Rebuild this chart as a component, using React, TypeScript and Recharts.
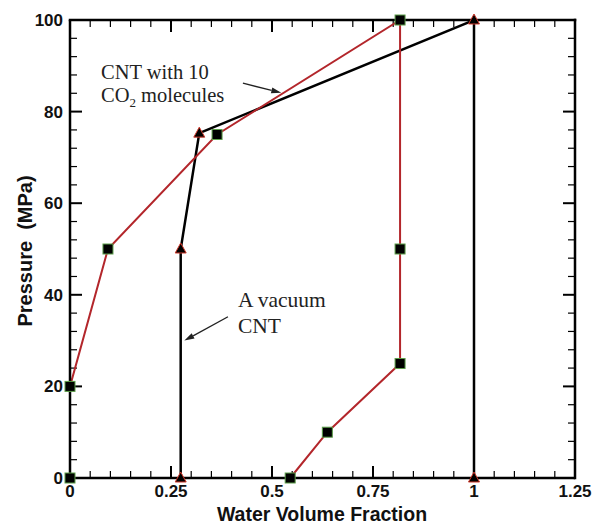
import React from 'react';
import { ComposedChart, Line, XAxis, YAxis, ReferenceLine, Customized } from 'recharts';

// CNT with 10 CO2 molecules (red line, square markers)
const co2X = [0, 0, 0.094, 0.364, 0.817, 0.817, 0.817, 0.637, 0.545];
const co2P = [0, 20, 50, 75, 100, 50, 25, 10, 0];
// Vacuum CNT (black line, triangle markers)
const vacX = [0.274, 0.274, 0.32, 1.0, 1.0];
const vacP = [0, 50, 75.3, 100, 0];

const xMajorTicks = [0, 0.25, 0.5, 0.75, 1, 1.25];
const xMinorTicks = [0.05, 0.1, 0.15, 0.2, 0.3, 0.35, 0.4, 0.45, 0.55, 0.6, 0.65, 0.7, 0.8, 0.85, 0.9, 0.95, 1.05, 1.1, 1.15, 1.2];
const yMajorTicks = [0, 20, 40, 60, 80, 100];
const yMinorTicks = [4, 8, 12, 16, 24, 28, 32, 36, 44, 48, 52, 56, 64, 68, 72, 76, 84, 88, 92, 96];

const co2Data = co2X.map((x, i) => ({ x, p: co2P[i] }));
const vacData = vacX.map((x, i) => ({ x, p: vacP[i] }));

const arrowCO2 = [{ x: 0.428, y: 86.2 }, { x: 0.523, y: 84.1 }];
const arrowVac = [{ x: 0.391, y: 35.2 }, { x: 0.283, y: 30.0 }];

const SANS = '"Liberation Sans", Arial, Helvetica, sans-serif';
const SERIF = '"Liberation Serif", "Times New Roman", serif';
const RED = '#b3262b';
const MAJ = 12;
const MIN = 7;

const BottomLabel = (props: any) => {
  const { x, y, payload } = props;
  return (
    <text x={x} y={y + 19} textAnchor="middle" fontFamily={SANS} fontWeight="bold" fontSize={17} fill="#111">
      {String(payload.value)}
    </text>
  );
};

const LeftLabel = (props: any) => {
  const { x, y, payload } = props;
  return (
    <text x={x - 7} y={y + 6} textAnchor="end" fontFamily={SANS} fontWeight="bold" fontSize={17} fill="#111">
      {String(payload.value)}
    </text>
  );
};

// tick marks drawn at both ends of a vertical reference line (bottom and top axes)
const vTicks = (len: number, w: number) => (props: any) => {
  const { x1, y1, y2 } = props;
  if (x1 == null || isNaN(x1)) return <g />;
  const top = Math.min(y1, y2);
  const bot = Math.max(y1, y2);
  return (
    <g>
      <line x1={x1} y1={bot} x2={x1} y2={bot - len} stroke="#000" strokeWidth={w} />
      <line x1={x1} y1={top} x2={x1} y2={top + len} stroke="#000" strokeWidth={w} />
    </g>
  );
};

// tick marks drawn at both ends of a horizontal reference line (left and right axes)
const hTicks = (len: number, w: number) => (props: any) => {
  const { x1, x2, y1 } = props;
  if (y1 == null || isNaN(y1)) return <g />;
  const l = Math.min(x1, x2);
  const r = Math.max(x1, x2);
  return (
    <g>
      <line x1={l} y1={y1} x2={l + len} y2={y1} stroke="#000" strokeWidth={w} />
      <line x1={r} y1={y1} x2={r - len} y2={y1} stroke="#000" strokeWidth={w} />
    </g>
  );
};

const majorV = vTicks(MAJ, 2);
const minorV = vTicks(MIN, 1.2);
const majorH = hTicks(MAJ, 2);
const minorH = hTicks(MIN, 1.2);

const FrameLine = (props: any) => {
  const { x1, y1, x2, y2 } = props;
  if ([x1, y1, x2, y2].some((v) => v == null || isNaN(v))) return <g />;
  return <line x1={x1} y1={y1} x2={x2} y2={y2} stroke="#000" strokeWidth={2.5} strokeLinecap="square" />;
};

const SquareDot = (props: any) => {
  const { cx, cy, index } = props;
  if (cx == null || cy == null) return <g key={`s${index}`} />;
  return <rect key={`s${index}`} x={cx - 5} y={cy - 5} width={10} height={10} fill="#000" stroke="#5c9e4a" strokeWidth={1} />;
};

const TriDot = (props: any) => {
  const { cx, cy, index } = props;
  if (cx == null || cy == null) return <g key={`t${index}`} />;
  return (
    <polygon
      key={`t${index}`}
      points={`${cx},${cy - 6} ${cx - 5.5},${cy + 4} ${cx + 5.5},${cy + 4}`}
      fill="#000"
      stroke="#d0392b"
      strokeWidth={1}
    />
  );
};

const ArrowShape = (props: any) => {
  const { x1, y1, x2, y2 } = props;
  if ([x1, y1, x2, y2].some((v) => v == null || isNaN(v))) return <g />;
  const ang = Math.atan2(y2 - y1, x2 - x1);
  const L = 10;
  const W = 3;
  const bx = x2 - L * Math.cos(ang);
  const by = y2 - L * Math.sin(ang);
  const px = -Math.sin(ang) * W;
  const py = Math.cos(ang) * W;
  return (
    <g>
      <line x1={x1} y1={y1} x2={bx} y2={by} stroke="#222" strokeWidth={1.3} />
      <polygon points={`${x2},${y2} ${bx + px},${by + py} ${bx - px},${by - py}`} fill="#222" />
    </g>
  );
};

const Texts = () => (
  <g>
    <text x={101} y={79} fontFamily={SERIF} fontSize={20.5} fill="#222">CNT with 10</text>
    <text x={101} y={101.5} fontFamily={SERIF} fontSize={20.5} fill="#222">
      CO<tspan fontSize={13} dy={5}>2</tspan>
      <tspan dy={-5}> molecules</tspan>
    </text>
    <text x={238} y={306.5} fontFamily={SERIF} fontSize={21.5} fill="#222">A vacuum</text>
    <text x={238} y={333} fontFamily={SERIF} fontSize={21.5} fill="#222">CNT</text>
    <text x={322} y={521} textAnchor="middle" fontFamily={SANS} fontWeight="bold" fontSize={19.5} fill="#111">
      Water Volume Fraction
    </text>
    <text
      x={0}
      y={0}
      transform="translate(31.5,251) rotate(-90)"
      textAnchor="middle"
      fontFamily={SANS}
      fontWeight="bold"
      fontSize={20}
      fill="#111"
      style={{ whiteSpace: 'pre' }}
    >
      {'Pressure  (MPa)'}
    </text>
  </g>
);

export default function App() {
  return (
    <div style={{ position: 'absolute', left: 0, top: 0, width: 594, height: 525, background: '#fff' }}>
      <ComposedChart width={594} height={525} margin={{ top: 20, right: 19, bottom: 17, left: 20 }}>
        <XAxis
          xAxisId="b"
          type="number"
          dataKey="x"
          orientation="bottom"
          domain={[0, 1.25]}
          ticks={xMajorTicks}
          interval={0}
          height={30}
          tickSize={0}
          tickMargin={0}
          tick={BottomLabel}
          axisLine={{ stroke: '#000', strokeWidth: 2.5 }}
          tickLine={false}
        />
        <YAxis
          yAxisId="l"
          type="number"
          orientation="left"
          domain={[0, 100]}
          ticks={yMajorTicks}
          interval={0}
          width={50}
          tickSize={0}
          tickMargin={0}
          tick={LeftLabel}
          axisLine={{ stroke: '#000', strokeWidth: 2.5 }}
          tickLine={false}
        />
        {xMinorTicks.map((v) => (
          <ReferenceLine key={`xm${v}`} xAxisId="b" yAxisId="l" x={v} shape={minorV} ifOverflow="visible" />
        ))}
        {xMajorTicks.map((v) => (
          <ReferenceLine key={`xM${v}`} xAxisId="b" yAxisId="l" x={v} shape={majorV} ifOverflow="visible" />
        ))}
        {yMinorTicks.map((v) => (
          <ReferenceLine key={`ym${v}`} xAxisId="b" yAxisId="l" y={v} shape={minorH} ifOverflow="visible" />
        ))}
        {yMajorTicks.map((v) => (
          <ReferenceLine key={`yM${v}`} xAxisId="b" yAxisId="l" y={v} shape={majorH} ifOverflow="visible" />
        ))}
        <ReferenceLine xAxisId="b" yAxisId="l" x={1.25} shape={FrameLine} ifOverflow="visible" />
        <ReferenceLine xAxisId="b" yAxisId="l" y={100} shape={FrameLine} ifOverflow="visible" />
        <Line
          xAxisId="b"
          yAxisId="l"
          data={vacData}
          dataKey="p"
          type="linear"
          stroke="#000"
          strokeWidth={2.5}
          dot={TriDot}
          activeDot={false}
          isAnimationActive={false}
        />
        <Line
          xAxisId="b"
          yAxisId="l"
          data={co2Data}
          dataKey="p"
          type="linear"
          stroke={RED}
          strokeWidth={2}
          dot={SquareDot}
          activeDot={false}
          isAnimationActive={false}
        />
        <ReferenceLine xAxisId="b" yAxisId="l" segment={arrowCO2} shape={ArrowShape} ifOverflow="visible" />
        <ReferenceLine xAxisId="b" yAxisId="l" segment={arrowVac} shape={ArrowShape} ifOverflow="visible" />
        <Customized component={Texts} />
      </ComposedChart>
    </div>
  );
}
